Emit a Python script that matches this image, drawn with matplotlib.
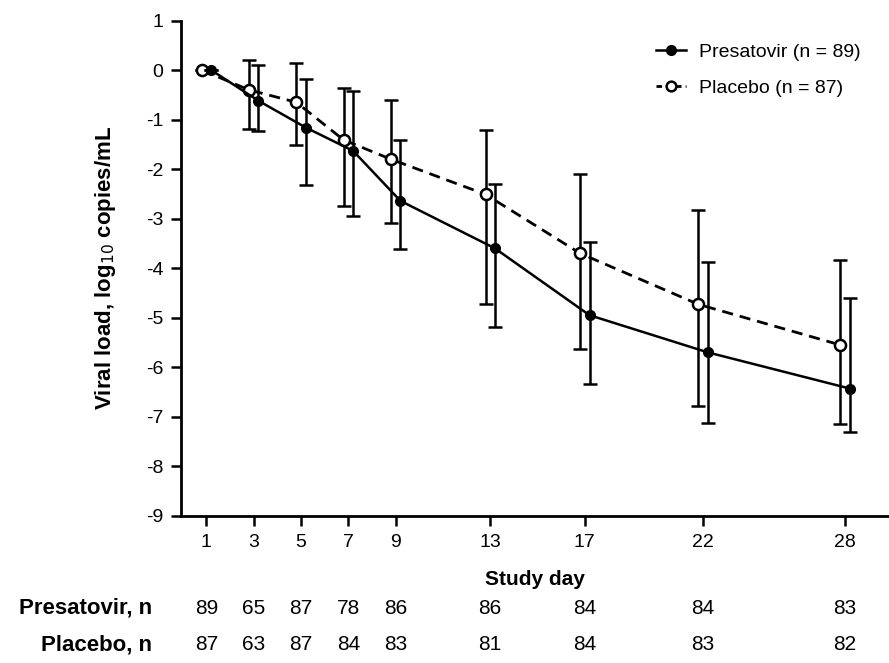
import matplotlib.pyplot as plt
import matplotlib.transforms as mtransforms
from matplotlib.lines import Line2D

plt.rcParams['font.family'] = ['Liberation Sans', 'DejaVu Sans']
plt.rcParams['axes.unicode_minus'] = False

days = [1, 3, 5, 7, 9, 13, 17, 22, 28]

# mean change and error bar ends
presa_mean = [0, -0.62, -1.16, -1.63, -2.64, -3.60, -4.95, -5.70, -6.43]
presa_hi = [0, 0.10, -0.18, -0.43, -1.41, -2.30, -3.48, -3.87, -4.61]
presa_lo = [0, -1.24, -2.32, -2.94, -3.62, -5.19, -6.34, -7.12, -7.30]

plac_mean = [0, -0.40, -0.65, -1.41, -1.80, -2.51, -3.70, -4.73, -5.55]
plac_hi = [0, 0.21, 0.15, -0.36, -0.60, -1.21, -2.09, -2.82, -3.83]
plac_lo = [0, -1.19, -1.52, -2.74, -3.08, -4.72, -5.64, -6.78, -7.14]

presa_n = [89, 65, 87, 78, 86, 86, 84, 84, 83]
plac_n = [87, 63, 87, 84, 83, 81, 84, 83, 82]

fig = plt.figure(figsize=(8.89, 6.63), dpi=100)
ax = fig.add_axes([0.204, 0.222, 0.796, 0.747])

dodge = 0.2
x_plac = [d - dodge for d in days]
x_presa = [d + dodge for d in days]

plac_err = [[m - l for m, l in zip(plac_mean, plac_lo)], [h - m for m, h in zip(plac_mean, plac_hi)]]
presa_err = [[m - l for m, l in zip(presa_mean, presa_lo)], [h - m for m, h in zip(presa_mean, presa_hi)]]

ax.errorbar(x_plac, plac_mean, yerr=plac_err, color='black', ls='--', lw=2,
            marker='o', ms=8, mfc='white', mec='black', mew=1.8,
            capsize=5, elinewidth=1.8, capthick=1.8, dashes=(4, 2.5), zorder=3)
ax.errorbar(x_presa, presa_mean, yerr=presa_err, color='black', ls='-', lw=1.8,
            marker='o', ms=7, mfc='black', mec='black',
            capsize=5, elinewidth=1.8, capthick=1.8, zorder=4)

ax.set_xlim(-0.06, 29.86)
ax.set_ylim(-9, 1)
ax.set_xticks(days)
ax.set_yticks(range(-9, 2))
ax.tick_params(labelsize=14, width=1.8, length=7, direction='out', pad=6)
for s in ['top', 'right']:
    ax.spines[s].set_visible(False)
for s in ['left', 'bottom']:
    ax.spines[s].set_linewidth(2)

ax.set_xlabel('Study day', fontsize=15, fontweight='bold', labelpad=14)
ax.set_ylabel('Viral load, log$_{10}$ copies/mL', fontsize=16, fontweight='bold', labelpad=20)

handles = [
    Line2D([], [], color='black', lw=1.8, marker='o', ms=7, mfc='black'),
    Line2D([], [], color='black', lw=2, ls='--', dashes=(2, 1.5), marker='o', ms=7, mfc='white', mew=1.8),
]
ax.legend(handles, ['Presatovir (n = 89)', 'Placebo (n = 87)'], loc='upper right',
          bbox_to_anchor=(0.985, 0.99), frameon=False, fontsize=14,
          handlelength=1.5, handletextpad=0.7, labelspacing=0.95)

# number at risk table under the axis
tr = mtransforms.blended_transform_factory(ax.transData, fig.transFigure)
fig.text(0.171, 1 - 608 / 663, 'Presatovir, n', ha='right', va='center', fontsize=16, fontweight='bold')
fig.text(0.171, 1 - 645 / 663, 'Placebo, n', ha='right', va='center', fontsize=16, fontweight='bold')
for d, a, b in zip(days, presa_n, plac_n):
    ax.text(d, 1 - 608 / 663, str(a), transform=tr, ha='center', va='center', fontsize=15)
    ax.text(d, 1 - 645 / 663, str(b), transform=tr, ha='center', va='center', fontsize=15)

fig.savefig('out.png', dpi=100)
